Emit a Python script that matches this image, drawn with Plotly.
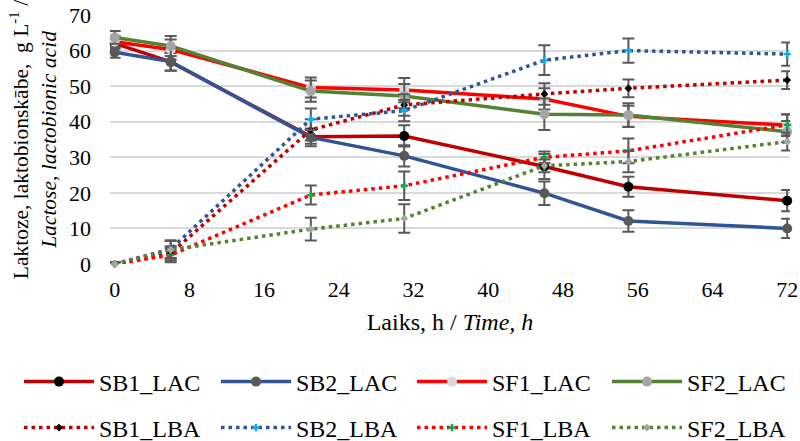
import plotly.graph_objects as go

time_h = [0, 6, 21, 31, 46, 55, 72]

sb1_lac = [62.0, 56.8, 35.8, 36.0, 27.4, 21.7, 17.8]
sb2_lac = [59.5, 56.9, 35.6, 30.4, 19.9, 12.1, 10.0]
sf1_lac = [62.5, 60.3, 49.6, 48.9, 46.4, 41.5, 39.0]
sf2_lac = [63.7, 61.3, 48.6, 47.2, 42.1, 41.9, 37.2]
sb1_lba = [0.0, 3.0, 37.7, 44.7, 47.8, 49.4, 51.7]
sb2_lba = [0.0, 4.2, 40.7, 43.1, 57.3, 60.0, 59.0]
sf1_lba = [0.0, 2.5, 19.4, 22.0, 30.0, 31.8, 39.1]
sf2_lba = [0.0, 4.0, 9.8, 12.8, 27.6, 28.8, 34.4]

sb1_lac_err = [1.5, 2.5, 2.0, 3.0, 3.5, 2.8, 3.0]
sb2_lac_err = [1.5, 2.5, 2.5, 3.0, 3.3, 3.0, 2.7]
sf1_lac_err = [1.5, 2.8, 2.8, 3.4, 3.0, 3.0, 3.0]
sf2_lac_err = [1.8, 2.8, 3.0, 3.4, 4.4, 3.3, 3.0]
sb1_lba_err = [0.5, 2.0, 3.0, 3.0, 3.0, 2.5, 2.5]
sb2_lba_err = [0.5, 2.5, 3.0, 3.0, 4.2, 3.4, 3.3]
sf1_lba_err = [0.5, 2.0, 2.7, 4.0, 1.6, 3.5, 3.0]
sf2_lba_err = [0.5, 2.5, 3.2, 4.0, 1.8, 3.0, 2.5]

names = ["SB1_LAC", "SB2_LAC", "SF1_LAC", "SF2_LAC",
         "SB1_LBA", "SB2_LBA", "SF1_LBA", "SF2_LBA"]
values = [sb1_lac, sb2_lac, sf1_lac, sf2_lac, sb1_lba, sb2_lba, sf1_lba, sf2_lba]
errors = [sb1_lac_err, sb2_lac_err, sf1_lac_err, sf2_lac_err,
          sb1_lba_err, sb2_lba_err, sf1_lba_err, sf2_lba_err]
line_colors = ["#C00000", "#2F5597", "#FF0000", "#548235",
               "#C00000", "#2F5597", "#FF0000", "#548235"]
marker_colors = ["#000000", "#595959", "#D9D9D9", "#A5A5A5",
                 "#000000", "#00B0F0", "#00B050", "#A5A5A5"]
marker_symbols = ["circle", "circle", "circle", "circle",
                  "diamond", "cross", "cross", "diamond"]

FONT = "Liberation Serif"
legend_x = [19, 216, 412, 607]
legend_y = [382, 428]

fig = go.Figure()
for i, (nm, v, e) in enumerate(zip(names, values, errors)):
    lac = i < 4
    fig.add_trace(go.Scatter(
        x=time_h, y=v, name=nm, mode="lines+markers",
        line=dict(color=line_colors[i], width=3.5,
                  dash="solid" if lac else "3.5px,4px"),
        marker=dict(symbol=marker_symbols[i], color=marker_colors[i],
                    size=10 if lac else 6),
        error_y=dict(type="data", array=e, visible=True, color="#595959",
                     thickness=2, width=6),
        legend="legend" if i == 0 else "legend%d" % (i + 1),
        showlegend=True,
        cliponaxis=False,
    ))

legends = {}
for i in range(8):
    key = "legend" if i == 0 else "legend%d" % (i + 1)
    legends[key] = dict(
        orientation="h", xref="container", yref="container",
        x=legend_x[i % 4] / 800, y=1 - legend_y[i // 4] / 441,
        xanchor="left", yanchor="middle", itemwidth=70,
        font=dict(family=FONT, size=24, color="#000000"),
        bgcolor="rgba(0,0,0,0)")

fig.update_layout(
    width=800, height=441,
    showlegend=True,
    margin=dict(l=110, r=10, t=15, b=177, autoexpand=False),
    paper_bgcolor="white", plot_bgcolor="white",
    font=dict(family=FONT, size=22, color="#000000"),
    xaxis=dict(range=[-0.5, 72.3], tickvals=[0, 8, 16, 24, 32, 40, 48, 56, 64, 72],
               showgrid=False, zeroline=False, showline=False, ticks="",
               ticklabelstandoff=10,
               tickfont=dict(family=FONT, size=22),
               title=dict(text="Laiks, h / <i>Time, h</i>", standoff=12,
                          font=dict(family=FONT, size=24))),
    yaxis=dict(range=[0, 70], dtick=10, showgrid=True, gridcolor="#D9D9D9",
               gridwidth=1.5, zeroline=False, showline=False, ticks="",
               ticklabelstandoff=18,
               tickfont=dict(family=FONT, size=22),
               title=dict(text="Laktoze, laktobionskābe,  g L<sup>-1</sup> /<br><i>Lactose, lactobionic acid</i>",
                          standoff=6, font=dict(family=FONT, size=21.5))),
    **legends,
)

fig.write_html("out.html")
